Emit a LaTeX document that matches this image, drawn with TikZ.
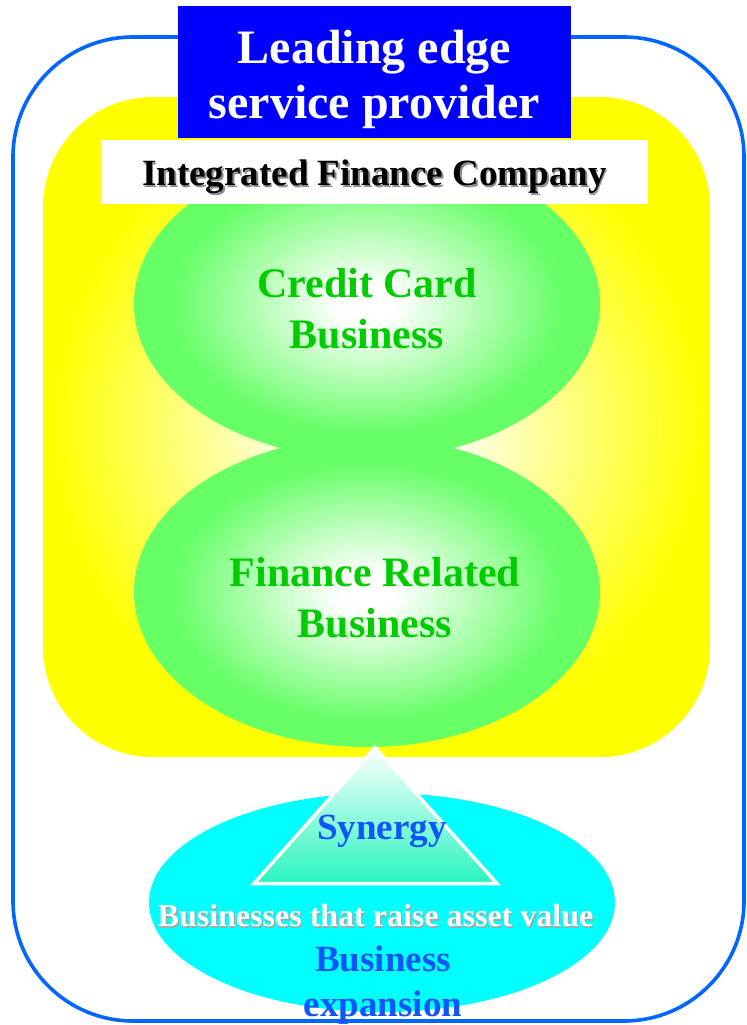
\documentclass[tikz,border=0pt]{standalone}
\usepackage{fontspec}
\setmainfont{Liberation Serif}
\usetikzlibrary{positioning, shapes.geometric}

\definecolor{frameblue}{RGB}{0,102,255}
\definecolor{boxblue}{RGB}{0,0,255}
\definecolor{panelyellow}{RGB}{255,255,0}
\definecolor{glowgreen}{RGB}{102,255,102}
\definecolor{bizgreen}{RGB}{0,204,0}
\definecolor{poolcyan}{RGB}{0,255,255}
\definecolor{mint}{RGB}{40,245,190}
\definecolor{synblue}{RGB}{15,85,250}

\pgfdeclareradialshading{yellowglow}{\pgfpoint{0bp}{0bp}}{color(0bp)=(white); color(4.5bp)=(white); color(24.5bp)=(panelyellow); color(50bp)=(panelyellow)}
\pgfdeclareradialshading{greenglow}{\pgfpoint{0bp}{0bp}}{color(0bp)=(white); color(3bp)=(white); color(21bp)=(glowgreen); color(50bp)=(glowgreen)}

\begin{document}
\begin{tikzpicture}[
    x=0.5pt, y=-0.5pt,
    frame/.style={draw=frameblue, line width=1.8pt, rounded corners=60pt},
    panel/.style={shading=yellowglow, rounded corners=55pt, minimum width=333.5pt, minimum height=330pt, inner sep=0pt},
    bizellipse/.style={ellipse, shading=greenglow, minimum width=233pt, minimum height=155pt, inner sep=0pt},
    leadbox/.style={fill=boxblue, minimum width=196.5pt, minimum height=66pt, inner sep=0pt},
    leadtxt/.style={text=white, font=\fontsize{24}{27.5}\selectfont\bfseries, align=center, inner sep=0pt},
    companybox/.style={fill=white, minimum width=273.5pt, minimum height=32pt, inner sep=0pt},
    companytxt/.style={font=\fontsize{18.5}{20}\selectfont\bfseries, inner sep=0pt},
    greentxt/.style={text=bizgreen, font=\fontsize{21}{25.5}\selectfont\bfseries, align=center, inner sep=0pt},
    pool/.style={ellipse, fill=poolcyan, minimum width=233pt, minimum height=109.5pt, inner sep=0pt},
    synergytri/.style={draw=white, line width=1.75pt, top color=white, bottom color=mint},
    bluetxt/.style={text=synblue, font=\fontsize{18.5}{22.5}\selectfont\bfseries, align=center, inner sep=0pt},
    valuetxt/.style={font=\fontsize{16}{18}\selectfont\bfseries, inner sep=0pt}
]
    \useasboundingbox (0,0) rectangle (746,1025);

    \draw[frame] (13,37) rectangle (744,1021);

    \node[panel] (panel) at (376.5,427) {};
    \node[bizellipse] (card) at (367,304) {};
    \node[bizellipse] (fin) at (367,592) {};

    \node[leadbox] (lead) at (374.5,72) {};
    \node[leadtxt, yshift=-3.5pt] (leadtext) at (lead) {Leading edge\\service provider};
    \node[companybox, below=0.5pt of lead] (company) {};
    \node[companytxt, text=black!45, xshift=0.8pt, yshift=-3.3pt] (companyshadow) at (company) {Integrated Finance Company};
    \node[companytxt, yshift=-2.5pt] (companytext) at (company) {Integrated Finance Company};

    \node[greentxt] (cardtxt) at (367,309) {Credit Card\\Business};
    \node[greentxt] (fintxt) at (375,598) {Finance Related\\Business};

    \node[pool] (pool) at (382,902.5) {};
    \path[synergytri] (375,747.5) coordinate (apex) -- (254,883.5) coordinate (baseL) -- (497,883.5) coordinate (baseR) -- cycle;

    \node[bluetxt] (synergy) at (382,831) {Synergy};
    \node[valuetxt, text=black!35, xshift=0.6pt, yshift=-0.6pt] (valueshadow) at (375.5,916) {Businesses that raise asset value};
    \node[valuetxt, text=white] (value) at (375.5,916) {Businesses that raise asset value};
    \node[bluetxt] (expansion) at (383,985) {Business\\expansion};
\end{tikzpicture}
\end{document}
